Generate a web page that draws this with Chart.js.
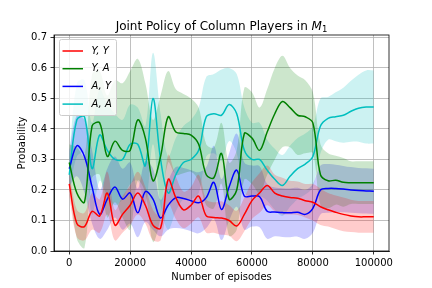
<!DOCTYPE html>
<html><head><meta charset="utf-8">
<script src="https://cdn.jsdelivr.net/npm/chart.js@4/dist/chart.umd.min.js"></script>
<style>html,body{margin:0;padding:0;background:#fff}#wrap{width:432px;height:288px;position:relative}</style>
</head><body><div id="wrap"><canvas id="c" width="432" height="288"></canvas></div>
<script>
const episodes = [0,2500,5000,7500,10000,12500,15000,17500,20000,22500,25000,27500,30000,32500,35000,37500,40000,42500,45000,47500,50000,52500,55000,57500,60000,62500,65000,67500,70000,72500,75000,77500,80000,82500,85000,87500,90000,92500,95000,97500,100000];

const yyMean = [0.22,0.09,0.08,0.13,0.115, 0.19,0.085,0.12,0.15,0.19, 0.15,0.085,0.075,0.235,0.175, 0.135,0.15,0.18,0.115,0.11, 0.108,0.1,0.082,0.12,0.165, 0.19,0.215,0.19,0.18,0.175, 0.173,0.165,0.16,0.145,0.135, 0.127,0.12,0.115,0.112,0.112, 0.112];
const yaMean = [0.29,0.19,0.16,0.41,0.42, 0.31,0.36,0.33,0.33,0.43, 0.37,0.23,0.31,0.44,0.39, 0.385,0.38,0.35,0.25,0.24, 0.32,0.17,0.2,0.385,0.37, 0.33,0.39,0.45,0.49,0.47, 0.445,0.44,0.42,0.25,0.23, 0.232,0.225,0.224,0.224,0.224, 0.224];
const ayMean = [0.27,0.345,0.31,0.21,0.12, 0.17,0.21,0.17,0.19,0.125, 0.195,0.17,0.108,0.15,0.175, 0.172,0.165,0.158,0.175,0.225, 0.136,0.21,0.265,0.18,0.18, 0.178,0.13,0.128,0.126,0.125, 0.127,0.12,0.14,0.2,0.205, 0.205,0.203,0.2,0.198,0.197, 0.196];
const aaMean = [0.25,0.43,0.44,0.27,0.38, 0.33,0.3,0.3,0.35,0.35, 0.28,0.5,0.3,0.19,0.25, 0.29,0.3,0.33,0.44,0.45, 0.445,0.48,0.45,0.33,0.3, 0.3,0.265,0.235,0.215,0.245, 0.27,0.285,0.31,0.41,0.435, 0.44,0.445,0.458,0.468,0.472, 0.472];

const yyStd = [0.04,0.045,0.045,0.06,0.055, 0.07,0.05,0.06,0.065,0.07, 0.06,0.05,0.04,0.08,0.07, 0.06,0.06,0.07,0.055,0.05, 0.055,0.05,0.05,0.055,0.06, 0.065,0.065,0.06,0.06,0.055, 0.055,0.055,0.06,0.06,0.055, 0.055,0.055,0.053,0.052,0.052, 0.052];
const yaStd = [0.06,0.15,0.15,0.17,0.17, 0.2,0.2,0.22,0.26,0.2, 0.18,0.2,0.2,0.15,0.14, 0.13,0.12,0.12,0.1,0.1, 0.1,0.12,0.13,0.15,0.15, 0.14,0.14,0.15,0.15,0.13, 0.13,0.12,0.1,0.1,0.09, 0.08,0.08,0.07,0.07,0.07, 0.07];
const ayStd = [0.06,0.1,0.12,0.12,0.08, 0.1,0.1,0.1,0.1,0.08, 0.1,0.1,0.06,0.08,0.1, 0.1,0.1,0.1,0.1,0.12, 0.1,0.11,0.12,0.11,0.1, 0.1,0.09,0.08,0.08,0.08, 0.08,0.08,0.08,0.08,0.08, 0.078,0.076,0.075,0.074,0.074, 0.074];
const aaStd = [0.06,0.12,0.12,0.15,0.15, 0.15,0.15,0.13,0.13,0.12, 0.13,0.15,0.15,0.12,0.12, 0.12,0.13,0.14,0.13,0.13, 0.15,0.12,0.13,0.14,0.12, 0.12,0.1,0.1,0.1,0.1, 0.1,0.1,0.1,0.09,0.07, 0.08,0.09,0.1,0.11,0.12, 0.12];

const seriesLabels = ['Y, Y', 'Y, A', 'A, Y', 'A, A'];
const seriesColors = ['#ff0000', '#008000', '#0000ff', '#00bfbf'];
const bandColors = ['rgba(255,0,0,0.2)', 'rgba(0,128,0,0.2)', 'rgba(0,0,255,0.2)', 'rgba(0,191,191,0.2)'];
const xTicks = [0, 20000, 40000, 60000, 80000, 100000];
const yTicks = [0.0, 0.1, 0.2, 0.3, 0.4, 0.5, 0.6, 0.7];
const titleMain = 'Joint Policy of Column Players in ';
const titleVar = 'M';
const titleSub = '1';
const xTitle = 'Number of episodes';
const yTitle = 'Probability';

const means = [yyMean, yaMean, ayMean, aaMean];
const stds = [yyStd, yaStd, ayStd, aaStd];
const pts = arr => arr.map((v, i) => ({x: episodes[i], y: v}));

const datasets = [];
means.forEach((m, s) => {
  const lo = m.map((v, i) => v - stds[s][i]);
  const hi = m.map((v, i) => v + stds[s][i]);
  datasets.push({label: seriesLabels[s] + ' lo', data: pts(lo), borderWidth: 0, pointRadius: 0, fill: false, order: 2, tension: 0.35});
  datasets.push({label: seriesLabels[s] + ' hi', data: pts(hi), borderWidth: 0, pointRadius: 0, fill: '-1', backgroundColor: bandColors[s], order: 2, tension: 0.35});
});
means.forEach((m, s) => {
  datasets.push({label: seriesLabels[s], data: pts(m), borderColor: seriesColors[s], borderWidth: 1.5, pointRadius: 0, fill: false, order: 0, tension: 0.35});
});

const FONT = 'DejaVu Sans';

const framePlugin = {
  id: 'frame',
  afterDraw(chart) {
    const {ctx, chartArea: a} = chart;
    ctx.save();
    ctx.strokeStyle = '#000';
    ctx.lineWidth = 0.8;
    ctx.strokeRect(a.left, a.top, a.right - a.left, a.bottom - a.top);
    // title
    const cx = (a.left + a.right) / 2;
    ctx.fillStyle = '#000';
    ctx.textBaseline = 'alphabetic';
    ctx.font = '12px ' + FONT;
    const w1 = ctx.measureText(titleMain).width;
    ctx.font = 'italic 12px ' + FONT;
    const w2 = ctx.measureText(titleVar).width;
    ctx.font = '8.5px ' + FONT;
    const w3 = ctx.measureText(titleSub).width;
    let x = cx - (w1 + w2 + w3) / 2;
    const by = 29.5;
    ctx.textAlign = 'left';
    ctx.font = '12px ' + FONT;
    ctx.fillText(titleMain, x, by); x += w1;
    ctx.font = 'italic 12px ' + FONT;
    ctx.fillText(titleVar, x, by); x += w2;
    ctx.font = '8.5px ' + FONT;
    ctx.fillText(titleSub, x, by + 2.5);
    // legend
    const lx = 59.5, ly = 39.5, lw = 57, lh = 76;
    ctx.beginPath();
    if (ctx.roundRect) ctx.roundRect(lx, ly, lw, lh, 2); else ctx.rect(lx, ly, lw, lh);
    ctx.fillStyle = 'rgba(255,255,255,0.8)';
    ctx.fill();
    ctx.strokeStyle = '#cccccc';
    ctx.lineWidth = 1;
    ctx.stroke();
    ctx.font = 'italic 10px ' + FONT;
    ctx.textBaseline = 'middle';
    seriesLabels.forEach((lab, i) => {
      const yy = 51 + i * 17.7;
      ctx.strokeStyle = seriesColors[i];
      ctx.lineWidth = 1.5;
      ctx.beginPath(); ctx.moveTo(62.5, yy); ctx.lineTo(83, yy); ctx.stroke();
      ctx.fillStyle = '#000';
      ctx.fillText(lab, 91.5, yy);
    });
    ctx.restore();
  }
};

new Chart(document.getElementById('c'), {
  type: 'line',
  data: {datasets},
  options: {
    responsive: false,
    devicePixelRatio: 1,
    animation: false,
    layout: {padding: {top: 35, right: 43, left: 0, bottom: 0}},
    plugins: {legend: {display: false}, title: {display: false}, tooltip: {enabled: false}},
    scales: {
      x: {
        type: 'linear', min: -5000, max: 105000,
        afterBuildTicks: s => { s.ticks = xTicks.map(v => ({value: v})); },
        afterFit: s => { s.height = 37; },
        ticks: {font: {family: FONT, size: 10}, color: '#000', padding: 3, maxRotation: 0, callback: v => String(v)},
        grid: {color: '#b0b0b0', lineWidth: 0.8, tickColor: '#000', tickLength: 3.5, drawTicks: true},
        border: {display: true, color: '#000', width: 0.8},
        title: {display: true, text: xTitle, font: {family: FONT, size: 10}, color: '#000', padding: {top: 0, bottom: 5}}
      },
      y: {
        type: 'linear', min: 0, max: 0.708,
        afterBuildTicks: s => { s.ticks = yTicks.map(v => ({value: v})); },
        afterFit: s => { s.width = 54; },
        ticks: {font: {family: FONT, size: 10}, color: '#000', padding: 3.5, callback: v => v.toFixed(1)},
        grid: {color: '#b0b0b0', lineWidth: 0.8, tickColor: '#000', tickLength: 3.5, drawTicks: true},
        border: {display: true, color: '#000', width: 0.8},
        title: {display: true, text: yTitle, font: {family: FONT, size: 10}, color: '#000', padding: {top: 16, bottom: 0}}
      }
    }
  },
  plugins: [framePlugin]
});
</script>
</body></html>
